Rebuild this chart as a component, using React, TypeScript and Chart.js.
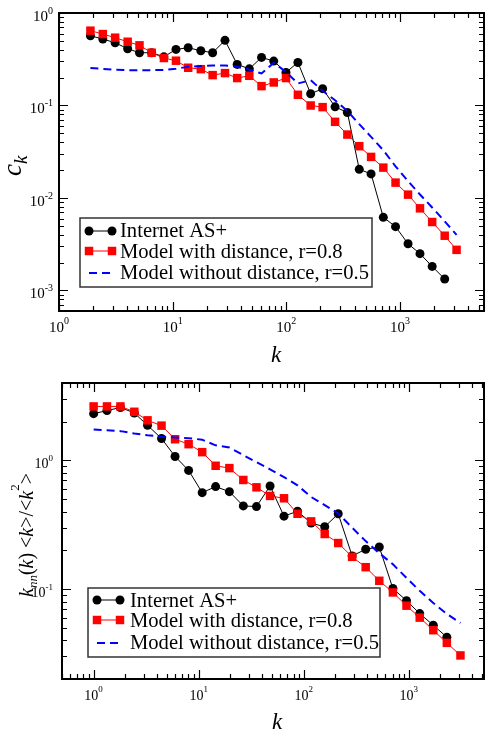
import React, { useEffect, useRef } from 'react';
import { Chart, registerables } from 'chart.js';
Chart.register(...registerables);

const SERIF = '"Liberation Serif", "Times New Roman", Times, serif';

const seriesLabels = ['Internet AS+', 'Model with distance, r=0.8', 'Model without distance, r=0.5'];

// ---------- top panel: clustering c_k ----------
const topKInternet = [1.89, 2.43, 3.12, 4.02, 5.11, 6.54, 8.38, 10.7, 13.7, 17.7, 22.5, 28.9, 37.0, 47.3, 60.6, 77.6, 99.5, 126.6, 164, 209, 269, 345, 439, 558, 715, 916, 1180, 1503, 1924, 2480];
const topCInternet = [0.568, 0.523, 0.477, 0.411, 0.372, 0.372, 0.336, 0.404, 0.421, 0.391, 0.372, 0.506, 0.278, 0.249, 0.331, 0.302, 0.228, 0.292, 0.134, 0.152, 0.0967, 0.084, 0.0204, 0.0182, 0.00618, 0.0049, 0.0032, 0.0025, 0.00182, 0.00133];
const topKModel = [1.89, 2.43, 3.12, 4.02, 5.11, 6.54, 8.38, 10.7, 13.7, 17.7, 22.5, 28.9, 37.0, 47.3, 60.6, 77.6, 99.5, 126.6, 164, 209, 269, 345, 439, 558, 715, 916, 1180, 1503, 1924, 2480, 3155];
const topCDistance = [0.644, 0.592, 0.541, 0.489, 0.447, 0.372, 0.326, 0.305, 0.256, 0.247, 0.213, 0.224, 0.198, 0.2096, 0.162, 0.1775, 0.198, 0.1305, 0.1, 0.096, 0.0666, 0.0485, 0.0363, 0.0278, 0.0213, 0.01466, 0.01087, 0.00773, 0.0055, 0.00391, 0.00275];
const topCNoDistance = [0.254, 0.249, 0.243, 0.241, 0.241, 0.241, 0.242, 0.25, 0.262, 0.267, 0.27, 0.271, 0.262, 0.244, 0.222, 0.29, 0.23, 0.173, 0.188, 0.144, 0.114, 0.0875, 0.0628, 0.0458, 0.0328, 0.022, 0.0152, 0.0109, 0.0079, 0.0056, 0.004];
const topXRange = [1, 5500];
const topYRange = [0.0006, 1];

// ---------- bottom panel: k_nn(k)<k>/<k^2> ----------
const botKInternet = [1, 1.34, 1.8, 2.44, 3.26, 4.43, 5.96, 8.02, 10.8, 14.5, 19.6, 26.6, 35.5, 47.8, 64.9, 87.3, 117.6, 158.4, 213, 289, 389, 524, 706, 951, 1271, 1711, 2303];
const botYInternet = [2.31, 2.44, 2.58, 2.34, 1.875, 1.48, 1.074, 0.837, 0.562, 0.626, 0.572, 0.443, 0.438, 0.633, 0.369, 0.403, 0.326, 0.305, 0.385, 0.181, 0.204, 0.2125, 0.101, 0.0813, 0.0645, 0.0524, 0.0423];
const botKModel = [1, 1.34, 1.8, 2.44, 3.26, 4.43, 5.96, 8.02, 10.8, 14.5, 19.6, 26.6, 35.5, 47.8, 64.9, 87.3, 117.6, 158.4, 213, 289, 389, 524, 706, 951, 1271, 1711, 2303, 3104];
const botYDistance = [2.63, 2.63, 2.63, 2.39, 2.05, 1.865, 1.462, 1.338, 1.16, 0.909, 0.872, 0.705, 0.618, 0.53, 0.508, 0.385, 0.336, 0.268, 0.228, 0.178, 0.148, 0.116, 0.0942, 0.0743, 0.06, 0.0479, 0.0382, 0.0305];
const botYNoDistance = [1.74, 1.72, 1.69, 1.62, 1.57, 1.53, 1.51, 1.49, 1.45, 1.31, 1.26, 1.1, 0.97, 0.853, 0.743, 0.64, 0.52, 0.45, 0.387, 0.3, 0.236, 0.19, 0.156, 0.122, 0.097, 0.078, 0.064, 0.0546];
const botXRange = [0.5, 5200];
const botYRange = [0.02, 4];

type Seg = { t: string; size: number; italic?: boolean; dy?: number };

const fontOf = (s: Seg) => `${s.italic ? 'italic ' : ''}${s.size}px ${SERIF}`;

function segsWidth(ctx: CanvasRenderingContext2D, segs: Seg[]) {
  let w = 0;
  for (const s of segs) {
    ctx.font = fontOf(s);
    w += ctx.measureText(s.t).width;
  }
  return w;
}

function drawSegs(ctx: CanvasRenderingContext2D, segs: Seg[], x: number, y: number) {
  let cx = x;
  for (const s of segs) {
    ctx.font = fontOf(s);
    ctx.fillText(s.t, cx, y + (s.dy || 0));
    cx += ctx.measureText(s.t).width;
  }
}

function logTicks(min: number, max: number) {
  const res: { v: number; major: boolean; e: number }[] = [];
  const e0 = Math.floor(Math.log10(min));
  const e1 = Math.ceil(Math.log10(max));
  for (let e = e0; e <= e1; e++) {
    for (let m = 1; m <= 9; m++) {
      const v = m * Math.pow(10, e);
      if (v >= min * 0.9999 && v <= max * 1.0001) res.push({ v, major: m === 1, e });
    }
  }
  return res;
}

interface PanelStyle {
  tickFont: number;
  supFont: number;
  supDyX: number;
  supDyY: number;
  xLabelBaseline: number;
  yLabelRight: number;
  yLabelDy: number;
  majorLen: number;
  minorLen: number;
  xTitle: { x: number; y: number; size: number };
  yTitle: { x: number; y: number; segs: Seg[] };
  legend: { box: [number, number, number, number]; sx: [number, number]; textX: number; rowsY: number[]; baselines: number[]; size: number };
}

function sciPlugin(st: PanelStyle) {
  return {
    id: 'sciAxes',
    afterDraw(chart: any) {
      const ctx: CanvasRenderingContext2D = chart.ctx;
      const a = chart.chartArea;
      const xs = chart.scales.x;
      const ys = chart.scales.y;
      ctx.save();
      ctx.strokeStyle = '#000';
      ctx.fillStyle = '#000';
      ctx.lineWidth = 1.2;
      ctx.beginPath();
      for (const t of logTicks(xs.min, xs.max)) {
        const px = Math.round(xs.getPixelForValue(t.v)) + 0.5;
        const len = t.major ? st.majorLen : st.minorLen;
        ctx.moveTo(px, a.bottom);
        ctx.lineTo(px, a.bottom - len);
        ctx.moveTo(px, a.top);
        ctx.lineTo(px, a.top + len);
      }
      for (const t of logTicks(ys.min, ys.max)) {
        const py = Math.round(ys.getPixelForValue(t.v)) + 0.5;
        const len = t.major ? st.majorLen : st.minorLen;
        ctx.moveTo(a.left, py);
        ctx.lineTo(a.left + len, py);
        ctx.moveTo(a.right, py);
        ctx.lineTo(a.right - len, py);
      }
      ctx.stroke();
      ctx.lineWidth = 2;
      ctx.strokeRect(a.left, a.top, a.right - a.left, a.bottom - a.top);

      // tick labels
      ctx.textBaseline = 'alphabetic';
      ctx.textAlign = 'left';
      for (const t of logTicks(xs.min, xs.max)) {
        if (!t.major) continue;
        const px = xs.getPixelForValue(t.v);
        const segs: Seg[] = [{ t: '10', size: st.tickFont }, { t: String(t.e), size: st.supFont, dy: st.supDyX }];
        const w = segsWidth(ctx, segs);
        drawSegs(ctx, segs, px - w / 2, st.xLabelBaseline);
      }
      for (const t of logTicks(ys.min, ys.max)) {
        if (!t.major) continue;
        const py = ys.getPixelForValue(t.v);
        const segs: Seg[] = [{ t: '10', size: st.tickFont }, { t: String(t.e), size: st.supFont, dy: st.supDyY }];
        const w = segsWidth(ctx, segs);
        drawSegs(ctx, segs, st.yLabelRight - w, py + st.yLabelDy);
      }

      // axis titles
      const xt: Seg[] = [{ t: 'k', size: st.xTitle.size, italic: true }];
      const xw = segsWidth(ctx, xt);
      drawSegs(ctx, xt, st.xTitle.x - xw / 2, st.xTitle.y);
      ctx.save();
      ctx.translate(st.yTitle.x, st.yTitle.y);
      ctx.rotate(-Math.PI / 2);
      drawSegs(ctx, st.yTitle.segs, 0, 0);
      ctx.restore();

      // legend
      const lg = st.legend;
      const [bx, by, bw, bh] = lg.box;
      ctx.fillStyle = '#fff';
      ctx.fillRect(bx, by, bw, bh);
      ctx.strokeStyle = '#333';
      ctx.lineWidth = 1.5;
      ctx.strokeRect(bx, by, bw, bh);
      const dsets = chart.data.datasets;
      dsets.forEach((ds: any, i: number) => {
        const yy = lg.rowsY[i];
        ctx.save();
        ctx.strokeStyle = ds.borderColor;
        ctx.lineWidth = ds.borderWidth;
        ctx.setLineDash(ds.borderDash || []);
        ctx.beginPath();
        ctx.moveTo(lg.sx[0], yy);
        ctx.lineTo(lg.sx[1], yy);
        ctx.stroke();
        ctx.setLineDash([]);
        if (ds.pointRadius > 0) {
          ctx.fillStyle = ds.pointBackgroundColor;
          for (const sx of lg.sx) {
            if (ds.pointStyle === 'rect') {
              const h = ds.pointRadius * Math.SQRT1_2;
              ctx.fillRect(sx - h, yy - h, 2 * h, 2 * h);
            } else {
              ctx.beginPath();
              ctx.arc(sx, yy, ds.pointRadius, 0, Math.PI * 2);
              ctx.fill();
            }
          }
        }
        ctx.restore();
        ctx.fillStyle = '#000';
        drawSegs(ctx, [{ t: ds.label, size: lg.size }], lg.textX, lg.baselines[i]);
      });
      ctx.restore();
    },
  };
}

function zip(xs: number[], ys: number[]) {
  return xs.map((x, i) => ({ x, y: ys[i] }));
}

function makeDatasets(k1: number[], y1: number[], k2: number[], y2: number[], k3: number[], y3: number[]) {
  return [
    {
      label: seriesLabels[0], data: zip(k1, y1), borderColor: '#000000', borderWidth: 1,
      pointStyle: 'circle', pointRadius: 4.5, pointBackgroundColor: '#000000', pointBorderWidth: 0,
      order: 3, tension: 0, fill: false,
    },
    {
      label: seriesLabels[1], data: zip(k2, y2), borderColor: '#ff0000', borderWidth: 1,
      pointStyle: 'rect', pointRadius: 6, pointBackgroundColor: '#ff0000', pointBorderWidth: 0,
      order: 2, tension: 0, fill: false,
    },
    {
      label: seriesLabels[2], data: zip(k3, y3), borderColor: '#0000ff', borderWidth: 2, borderDash: [8, 5],
      pointRadius: 0, pointBackgroundColor: '#0000ff', order: 1, tension: 0, fill: false,
    },
  ];
}

function makeConfig(datasets: any[], xr: number[], yr: number[], padding: any, st: PanelStyle): any {
  return {
    type: 'line',
    data: { datasets },
    options: {
      responsive: false,
      maintainAspectRatio: false,
      animation: false,
      events: [],
      layout: { padding },
      scales: {
        x: { type: 'logarithmic', min: xr[0], max: xr[1], display: false },
        y: { type: 'logarithmic', min: yr[0], max: yr[1], display: false },
      },
      plugins: { legend: { display: false }, tooltip: { enabled: false } },
    },
    plugins: [sciPlugin(st)],
  };
}

const TOP_H = 366;
const BOT_H = 365;

export default function App() {
  const topRef = useRef<HTMLCanvasElement>(null);
  const botRef = useRef<HTMLCanvasElement>(null);

  useEffect(() => {
    const topStyle: PanelStyle = {
      tickFont: 15, supFont: 10, supDyX: -8, supDyY: -7,
      xLabelBaseline: 332, yLabelRight: 53, yLabelDy: 8,
      majorLen: 9, minorLen: 5,
      xTitle: { x: 276, y: 362, size: 23 },
      yTitle: { x: 21, y: 176, segs: [{ t: 'c', size: 27, italic: true }, { t: 'k', size: 19, italic: true, dy: 6 }] },
      legend: { box: [80, 218, 292, 69], sx: [89, 112], textX: 120, rowsY: [231, 251, 273], baselines: [237, 258, 279], size: 20.6 },
    };
    const botStyle: PanelStyle = {
      tickFont: 14, supFont: 9, supDyX: -8, supDyY: -7,
      xLabelBaseline: 700 - 366, yLabelRight: 53, yLabelDy: 8,
      majorLen: 9, minorLen: 5,
      xTitle: { x: 277, y: 729 - 366, size: 23 },
      yTitle: {
        x: 33, y: 597 - 366, segs: [
          { t: 'k', size: 20, italic: true },
          { t: 'nn', size: 13, italic: true, dy: 4 },
          { t: '(', size: 20 },
          { t: 'k', size: 20, italic: true },
          { t: ') <', size: 20 },
          { t: 'k', size: 20, italic: true },
          { t: '>/<', size: 20 },
          { t: 'k', size: 20, italic: true },
          { t: '2', size: 13, dy: -14 },
          { t: '>', size: 20 },
        ],
      },
      legend: { box: [88, 588 - 366, 292, 69], sx: [97, 120], textX: 130, rowsY: [600 - 366, 620 - 366, 643 - 366], baselines: [607 - 366, 627 - 366, 649 - 366], size: 20.6 },
    };

    const c1 = new Chart(
      topRef.current as HTMLCanvasElement,
      makeConfig(
        makeDatasets(topKInternet, topCInternet, topKModel, topCDistance, topKModel, topCNoDistance),
        topXRange, topYRange, { left: 59, top: 13, right: 1, bottom: TOP_H - 311 }, topStyle,
      ),
    );
    const c2 = new Chart(
      botRef.current as HTMLCanvasElement,
      makeConfig(
        makeDatasets(botKInternet, botYInternet, botKModel, botYDistance, botKModel, botYNoDistance),
        botXRange, botYRange, { left: 62, top: 383 - 366, right: 3, bottom: BOT_H - (679 - 366) }, botStyle,
      ),
    );
    return () => {
      c1.destroy();
      c2.destroy();
    };
  }, []);

  return (
    <div style={{ position: 'absolute', left: 0, top: 0, width: 490, height: 731, background: '#fff' }}>
      <canvas ref={topRef} width={490} height={TOP_H} style={{ position: 'absolute', left: 0, top: 0, width: 490, height: TOP_H }} />
      <canvas ref={botRef} width={490} height={BOT_H} style={{ position: 'absolute', left: 0, top: TOP_H, width: 490, height: BOT_H }} />
    </div>
  );
}
